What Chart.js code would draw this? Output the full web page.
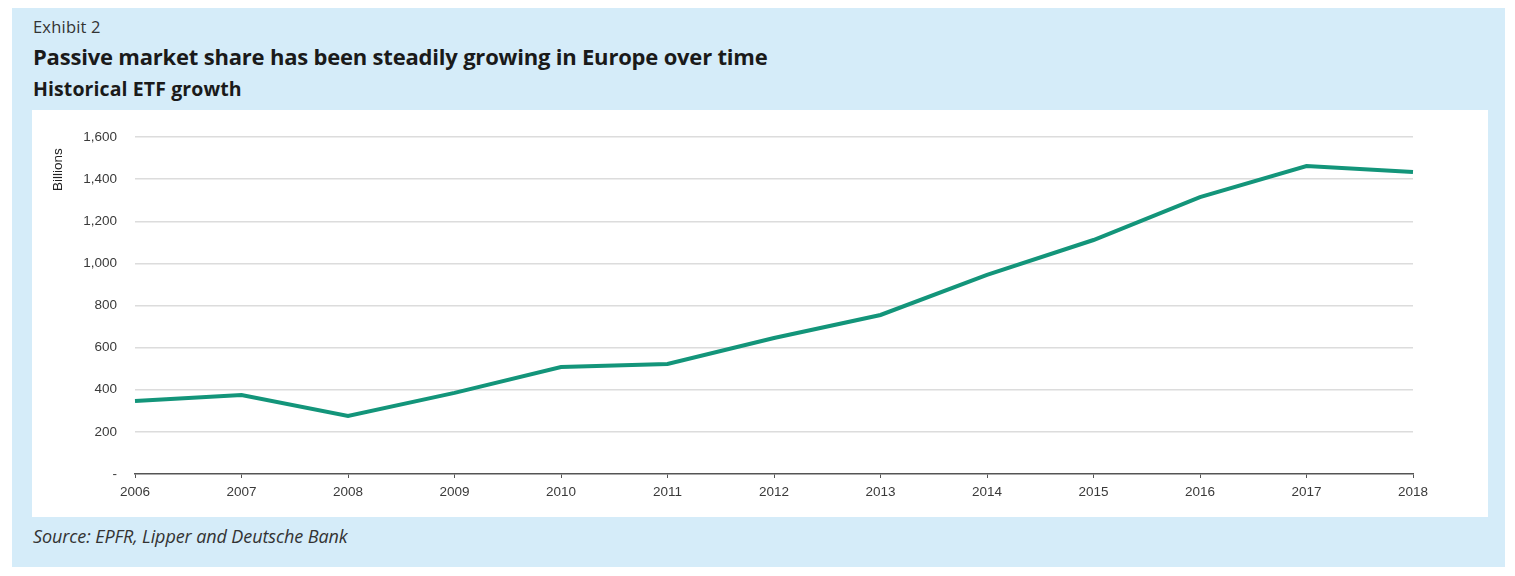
<!DOCTYPE html>
<html>
<head>
<meta charset="utf-8">
<script src="https://cdn.jsdelivr.net/npm/chart.js"></script>
<style>
  body { margin: 0; width: 1515px; height: 576px; background: #fff; position: relative; overflow: hidden; font-family: "Open Sans", sans-serif; }
  .panel { position: absolute; left: 12px; top: 8px; width: 1493px; height: 559px; background: #d5ecf9; }
  .exhibit { position: absolute; left: 33px; top: 15px; font-size: 16.5px; color: #333; letter-spacing: 0.2px; }
  .title { position: absolute; left: 33px; top: 41px; font-size: 22px; font-weight: bold; color: #1a1a1a; letter-spacing: -0.2px; }
  .subtitle { position: absolute; left: 33px; top: 75px; font-size: 19.5px; font-weight: bold; color: #1a1a1a; letter-spacing: 0.1px; }
  .box { position: absolute; left: 32px; top: 110px; width: 1456px; height: 407px; background: #fff; }
  .source { position: absolute; left: 33px; top: 524px; font-size: 18px; font-style: italic; color: #333; letter-spacing: -0.1px; }
</style>
</head>
<body>
<div class="panel"></div>
<div class="exhibit">Exhibit 2</div>
<div class="title">Passive market share has been steadily growing in Europe over time</div>
<div class="subtitle">Historical ETF growth</div>
<div class="box"><canvas id="etfChart" width="1456" height="407"></canvas></div>
<div class="source">Source: EPFR, Lipper and Deutsche Bank</div>

<script>
// Historical ETF assets, billions
const years = ['2006', '2007', '2008', '2009', '2010', '2011', '2012', '2013', '2014', '2015', '2016', '2017', '2018'];
const etfAssets = [347, 375, 275, 385, 508, 522, 646, 755, 945, 1111, 1315, 1462, 1434];
const yTicks = [0, 200, 400, 600, 800, 1000, 1200, 1400, 1600];

const axisFont = { family: 'Liberation Sans', size: 13.5 };

new Chart(document.getElementById('etfChart'), {
    type: 'line',
    data: {
        labels: years,
        datasets: [{
            data: etfAssets,
            borderColor: '#13957a',
            borderWidth: 4,
            pointRadius: 0,
            tension: 0,
            fill: false
        }]
    },
    options: {
        responsive: false,
        animation: false,
        layout: { padding: { top: 27, right: 75, left: 0, bottom: 0 } },
        plugins: { legend: { display: false }, tooltip: { enabled: false } },
        scales: {
            x: {
                offset: false,
                grid: { drawOnChartArea: false, drawTicks: true, tickLength: 4, color: '#555' },
                border: { display: true, color: '#555', width: 1.5 },
                ticks: { color: '#3a3a3a', font: axisFont, padding: 6, maxRotation: 0 },
                afterFit: s => { s.height = 43; }
            },
            y: {
                min: 0,
                max: 1600,
                afterBuildTicks: s => { s.ticks = yTicks.map(v => ({ value: v })); },
                grid: {
                    drawTicks: false,
                    lineWidth: 1.5,
                    color: ctx => ctx.tick && ctx.tick.value === 0 ? 'rgba(0,0,0,0)' : '#dcdcdc'
                },
                border: { display: false },
                ticks: {
                    color: '#3a3a3a',
                    font: axisFont,
                    padding: 18,
                    callback: v => v === 0 ? '-' : v.toLocaleString('en-US')
                },
                title: {
                    display: true,
                    text: 'Billions   ',
                    align: 'end',
                    color: '#222',
                    font: { family: 'Liberation Sans', size: 13.5 },
                    padding: { top: 18, bottom: 0 }
                },
                afterFit: s => { s.width = 103; }
            }
        }
    }
});
</script>
</body>
</html>
